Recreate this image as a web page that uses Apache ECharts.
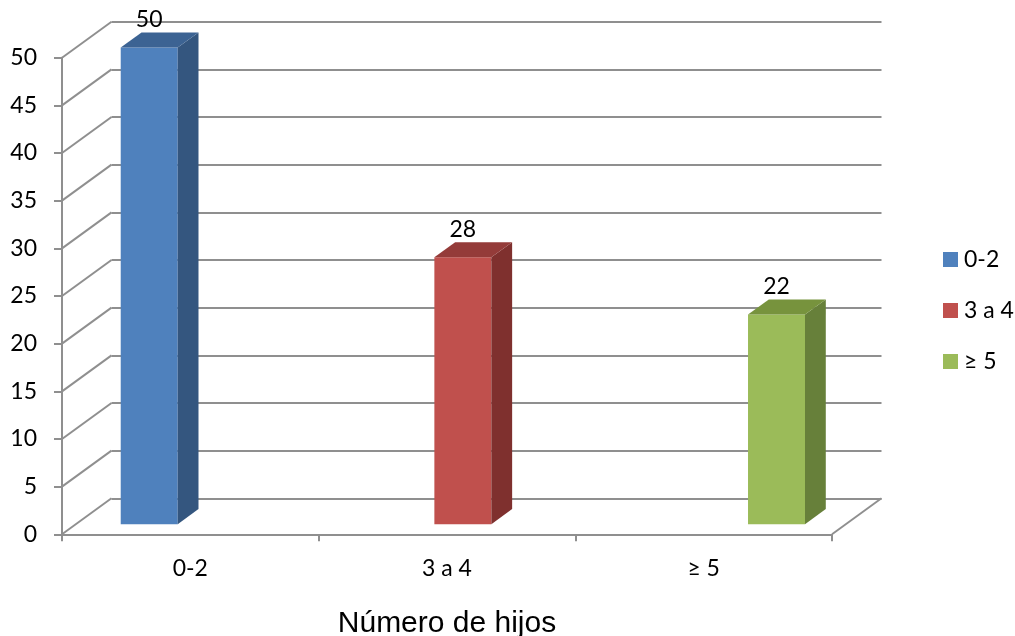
<!DOCTYPE html>
<html>
<head>
<meta charset="utf-8">
<script src="https://cdn.jsdelivr.net/npm/echarts@6/dist/echarts.min.js"></script>
<style>
  html, body { margin: 0; padding: 0; background: #ffffff; }
  #chart { width: 1015px; height: 636px; }
</style>
</head>
<body>
<div id="chart"></div>
<script>
// Categories, series and values
const categories = ['0-2', '3 a 4', '≥ 5'];
const seriesNames = ['0-2', '3 a 4', '≥ 5'];
const values = [50, 28, 22];
const yTicks = [0, 5, 10, 15, 20, 25, 30, 35, 40, 45, 50];

// Face colours per series: front, side, top
const frontColors = ['#4F81BD', '#C0504D', '#9BBB59'];
const sideColors = ['#34567F', '#7F302E', '#67803A'];
const topColors = ['#3C6393', '#943B39', '#77933D'];

// Oblique projection of the floor depth
const DX = 49.5, DY = -36;
// Bar position inside the depth and its own thickness
const FRONT_F = 0.28, DEPTH_F = 0.42;
const BAR_W = 0.222;
const BAR_SHIFT = 2;

const gridColor = '#8f8f8f';
const labelFont = 'Lato';

const GRID_LEFT = 62, GRID_TOP = 57.7, GRID_W = 770, GRID_H = 476.6;

function wallItem(params, api) {
  const cs = params.coordSys;
  const v = api.value(0);
  const p = api.coord([0, v]);
  const x0 = cs.x, y0 = p[1];
  const children = [{
    type: 'line',
    shape: { x1: x0, y1: y0, x2: x0 + DX, y2: y0 + DY },
    style: { stroke: gridColor, lineWidth: 2 }
  }];
  if (v === 0) {
    children.push({
      type: 'line',
      shape: { x1: cs.x + cs.width, y1: y0, x2: cs.x + cs.width + DX, y2: y0 + DY },
      style: { stroke: gridColor, lineWidth: 2 }
    });
  }
  return { type: 'group', children };
}

function barItem(k) {
  return function (params, api) {
    const cat = api.value(0), val = api.value(1);
    const c0 = api.coord([cat, 0]);
    const c1 = api.coord([cat, val]);
    const band = api.size([1, 0])[0];
    const w = band * BAR_W;
    const fx = FRONT_F * DX, fy = FRONT_F * DY;
    const sx = DEPTH_F * DX, sy = DEPTH_F * DY;
    const left = c0[0] + (k - 1) * w - w / 2 + fx + BAR_SHIFT;
    const right = left + w;
    const yb = c0[1] + fy, yt = c1[1] + fy;
    return {
      type: 'group',
      children: [
        {
          type: 'rect',
          shape: { x: left, y: yt, width: w, height: yb - yt },
          style: { fill: frontColors[k] }
        },
        {
          type: 'polygon',
          shape: { points: [[right, yt], [right + sx, yt + sy], [right + sx, yb + sy], [right, yb]] },
          style: { fill: sideColors[k] }
        },
        {
          type: 'polygon',
          shape: { points: [[left, yt], [left + sx, yt + sy], [right + sx, yt + sy], [right, yt]] },
          style: { fill: topColors[k] }
        },
        {
          type: 'text',
          style: {
            x: left + w / 2, y: yt + sy - 13,
            text: String(val),
            fill: '#000000',
            font: '23px ' + labelFont,
            align: 'center', verticalAlign: 'middle'
          }
        }
      ]
    };
  };
}

const chart = echarts.init(document.getElementById('chart'), null, { renderer: 'canvas' });

const barSeries = seriesNames.map((name, k) => ({
  name,
  type: 'custom',
  xAxisIndex: 0,
  yAxisIndex: 0,
  z: 5,
  itemStyle: { color: frontColors[k] },
  renderItem: barItem(k),
  data: [[k, values[k]]],
  encode: { x: 0, y: 1 }
}));

chart.setOption({
  animation: false,
  backgroundColor: '#ffffff',
  legend: {
    orient: 'vertical',
    left: 938,
    top: 243,
    itemWidth: 15,
    itemHeight: 15,
    itemGap: 28,
    icon: 'rect',
    textStyle: { fontFamily: labelFont, fontSize: 23, color: '#000000', padding: [0, 0, 0, 1] },
    data: seriesNames
  },
  grid: [
    { left: GRID_LEFT, top: GRID_TOP, width: GRID_W, height: GRID_H, outerBoundsMode: 'none', containLabel: false },
    { left: GRID_LEFT + DX, top: GRID_TOP + DY, width: GRID_W, height: GRID_H, outerBoundsMode: 'none', containLabel: false }
  ],
  xAxis: [
    {
      gridIndex: 0,
      type: 'category',
      data: categories,
      boundaryGap: true,
      axisLine: { lineStyle: { color: gridColor, width: 2 } },
      axisTick: { show: true, length: 7, lineStyle: { color: gridColor, width: 2 } },
      axisLabel: { fontFamily: labelFont, fontSize: 23, color: '#000000', margin: 23 },
      name: 'Número de hijos',
      nameLocation: 'middle',
      nameGap: 74,
      nameTextStyle: { fontFamily: 'Liberation Sans', fontSize: 30, color: '#000000' }
    },
    {
      gridIndex: 1,
      type: 'category',
      data: categories,
      show: false
    }
  ],
  yAxis: [
    {
      gridIndex: 0,
      type: 'value',
      min: 0, max: 50, interval: 5,
      axisLine: { show: true, lineStyle: { color: gridColor, width: 2 } },
      axisTick: { show: true, length: 8, lineStyle: { color: gridColor, width: 2 } },
      axisLabel: { fontFamily: labelFont, fontSize: 23, color: '#000000', margin: 25 },
      splitLine: { show: false }
    },
    {
      gridIndex: 1,
      type: 'value',
      min: 0, max: 50, interval: 5,
      axisLine: { show: false },
      axisTick: { show: false },
      axisLabel: { show: false },
      splitLine: { show: true, lineStyle: { color: gridColor, width: 2 } }
    }
  ],
  series: [
    {
      type: 'custom',
      name: 'walls',
      xAxisIndex: 0,
      yAxisIndex: 0,
      z: 1,
      silent: true,
      renderItem: wallItem,
      data: yTicks.map(v => [v]),
      encode: { y: 0 }
    }
  ].concat(barSeries)
});
</script>
</body>
</html>
